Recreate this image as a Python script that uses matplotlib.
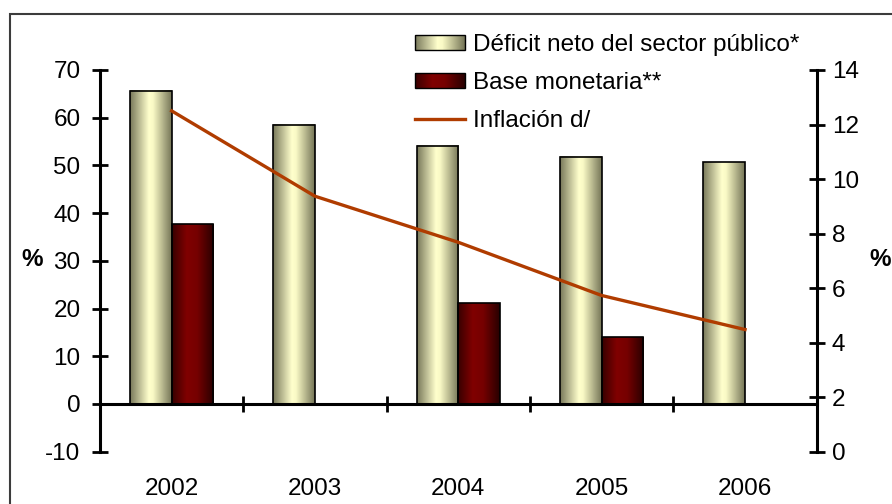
import numpy as np
import matplotlib
matplotlib.use('Agg')
import matplotlib.pyplot as plt
from matplotlib.colors import LinearSegmentedColormap
from matplotlib.patches import Rectangle
from matplotlib.legend_handler import HandlerBase
from matplotlib.image import BboxImage
from matplotlib.transforms import Bbox, TransformedBbox

# datos
years = ['2002', '2003', '2004', '2005', '2006']
deficit = [65.7, 58.5, 54.1, 51.8, 50.7]
base_monetaria = [37.7, np.nan, 21.1, 14.0, np.nan]
inflacion = [12.5, 9.37, 7.68, 5.73, 4.48]

plt.rcParams['font.family'] = ['Liberation Sans', 'DejaVu Sans']
plt.rcParams['axes.unicode_minus'] = False
FS = 17.5

cm_def = LinearSegmentedColormap.from_list(
    'def', [(0, '#78785a'), (0.45, '#ffffcc'), (0.55, '#fafac6'), (1, '#747456')])
cm_base = LinearSegmentedColormap.from_list(
    'base', [(0, '#380000'), (0.35, '#800000'), (0.6, '#760000'), (1, '#280000')])
grad = np.linspace(0, 1, 256).reshape(1, -1)


class GradHandler(HandlerBase):
    def __init__(self, cmap):
        super().__init__()
        self.cmap = cmap

    def create_artists(self, legend, orig_handle, xdescent, ydescent,
                       width, height, fontsize, trans):
        bb = Bbox.from_bounds(-xdescent, -ydescent, width, height)
        img = BboxImage(TransformedBbox(bb, trans), cmap=self.cmap,
                        interpolation='bilinear')
        img.set_data(grad)
        rect = Rectangle((-xdescent, -ydescent), width, height,
                         facecolor='none', edgecolor='black', lw=1,
                         transform=trans)
        return [img, rect]


fig = plt.figure(figsize=(8.92, 5.04), dpi=100)
ax = fig.add_axes([100 / 892, 1 - 451.7 / 504, (816.7 - 100) / 892, (451.7 - 70) / 504])

# marco exterior
fig.patches.append(Rectangle((10 / 892, -0.1), 1, 1.1 - 14 / 504,
                             transform=fig.transFigure, fill=False,
                             edgecolor='#3c3c3c', lw=1.5))

x = np.arange(len(years))
w = 0.29
b1 = ax.bar(x - w / 2, deficit, w, facecolor='none', edgecolor='black',
            lw=1.2, zorder=3, label='Déficit neto del sector público*')
b2 = ax.bar(x + w / 2, base_monetaria, w, facecolor='none', edgecolor='black',
            lw=1.2, zorder=3, label='Base monetaria**')
for bars, cm in ((b1, cm_def), (b2, cm_base)):
    for r in bars:
        h = r.get_height()
        if np.isnan(h):
            continue
        ax.imshow(grad, cmap=cm, extent=[r.get_x(), r.get_x() + r.get_width(), 0, h],
                  aspect='auto', zorder=2, interpolation='bilinear')

ax.set_xlim(-0.5, 4.5)
ax.set_ylim(-10, 70)
ax.spines['top'].set_visible(False)
ax.spines['right'].set_visible(False)
ax.spines['bottom'].set_position(('data', 0))
ax.spines['bottom'].set_linewidth(2.2)
ax.spines['left'].set_linewidth(2.2)
ax.spines['bottom'].set_zorder(4)

ax.set_yticks(range(-10, 71, 10))
ax.tick_params(axis='y', direction='inout', length=12, width=2, labelsize=FS, pad=8)
ax.set_xticks(np.arange(-0.5, 5, 1))
ax.set_xticklabels([])
ax.tick_params(axis='x', which='major', direction='inout', length=12, width=2)
ax.set_xticks(x, minor=True)
ax.set_xticklabels(years, minor=True)
ax.tick_params(axis='x', which='minor', length=0, pad=53, labelsize=FS)

ax2 = ax.twinx()
ax2.set_ylim(0, 14)
ax2.set_yticks(range(0, 15, 2))
for s in ('top', 'left', 'bottom'):
    ax2.spines[s].set_visible(False)
ax2.spines['right'].set_linewidth(2.2)
ax2.tick_params(axis='y', direction='inout', length=12, width=2, labelsize=FS, pad=5)
line, = ax2.plot(x, inflacion, color='#b03c00', lw=2.4, zorder=3, label='Inflación d/')

fig.text(32 / 892, 1 - 260 / 504, '%', weight='bold', ha='center', va='center', size=FS)
fig.text(880 / 892, 1 - 260 / 504, '%', weight='bold', ha='center', va='center', size=FS)

ax2.legend([b1, b2, line], [b1.get_label(), b2.get_label(), line.get_label()],
           handler_map={b1: GradHandler(cm_def), b2: GradHandler(cm_base)},
           loc='upper left', bbox_to_anchor=(415 / 892, 1 - 34 / 504),
           bbox_transform=fig.transFigure, frameon=False, fontsize=FS,
           handlelength=2.05, handleheight=0.55, handletextpad=0.33,
           labelspacing=0.66, borderaxespad=0, borderpad=0)

fig.savefig('out.png', dpi=100)
